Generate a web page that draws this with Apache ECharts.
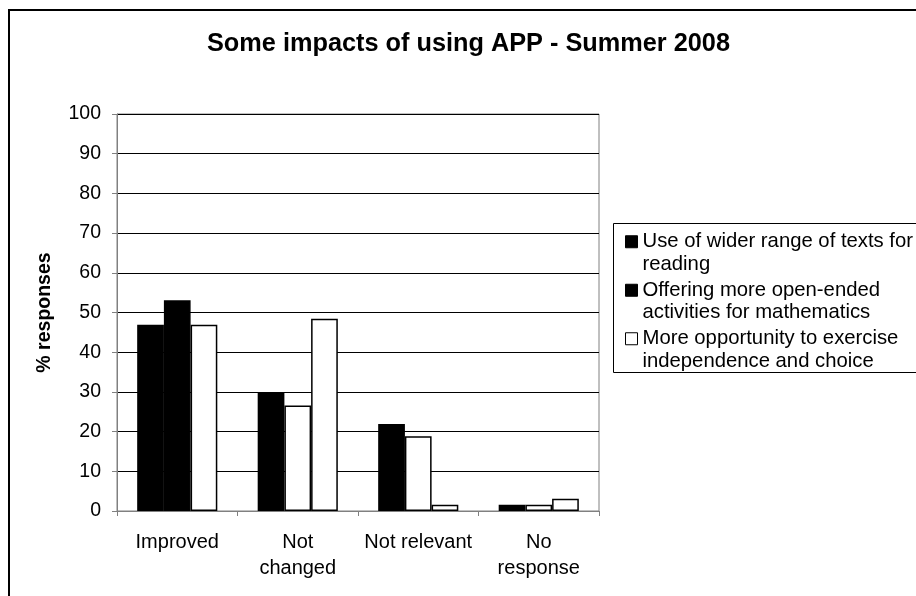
<!DOCTYPE html>
<html>
<head>
<meta charset="utf-8">
<style>
  html, body { margin: 0; padding: 0; background: #fff; }
  #chart { width: 916px; height: 596px; }
</style>
<script src="https://cdn.jsdelivr.net/npm/echarts@6/dist/echarts.min.js"></script>
</head>
<body>
<div id="chart"></div>
<script>
// Survey outcome categories (x axis)
const categories = ['Improved', 'Not\nchanged', 'Not relevant', 'No\nresponse'];

// Series names, as shown in the legend
const seriesNames = [
  'Use of wider range of texts for\nreading',
  'Offering more open-ended\nactivities for mathematics',
  'More opportunity to exercise\nindependence and choice'
];

// Percentage of responses per category
const readingValues      = [46.9, 29.7, 21.9, 1.6];
const mathematicsValues  = [53.1, 26.6, 18.8, 1.6];
const independenceValues = [46.9, 48.4, 1.6, 3.1];

// Y axis scale
const yMin = 0, yMax = 100, yStep = 10;

const FONT = '"Liberation Sans", Arial, sans-serif';

const chart = echarts.init(document.getElementById('chart'), null, { renderer: 'canvas' });

const barBorder = { borderColor: '#000', borderWidth: 1.5 };

// The mathematics series is solid black for "Improved" and hollow elsewhere
const mathsData = mathematicsValues.map((v, i) => (
  i === 0 ? v : { value: v, itemStyle: { color: '#fff' } }
));

chart.setOption({
  animation: false,
  backgroundColor: '#fff',
  title: {
    text: 'Some impacts of using APP - Summer 2008',
    left: 202,
    top: 27,
    textStyle: { fontFamily: FONT, fontSize: 25.3, fontWeight: 'bold', color: '#000' }
  },
  graphic: [
    { type: 'rect', shape: { x: 9, y: 10, width: 1000, height: 1000 },
      style: { fill: 'none', stroke: '#000', lineWidth: 2 }, silent: true },
    { type: 'rect', shape: { x: 613.5, y: 223.5, width: 400, height: 149 },
      style: { fill: 'none', stroke: '#000', lineWidth: 1 }, silent: true }
  ],
  legend: {
    orient: 'vertical',
    left: 625,
    top: 208,
    padding: 0,
    itemGap: -19,
    itemWidth: 12,
    itemHeight: 12,
    icon: 'rect',
    itemStyle: { borderColor: '#000', borderWidth: 1 },
    // a leading blank line keeps the first text line level with the swatch
    formatter: name => '\n' + name,
    textStyle: {
      fontFamily: FONT, fontSize: 20.3, color: '#000', lineHeight: 22.5
    },
    data: seriesNames
  },
  grid: {
    left: 117, right: 317, top: 114, bottom: 85,
    show: true, borderColor: '#808080', borderWidth: 1, backgroundColor: '#fff'
  },
  xAxis: {
    type: 'category',
    data: categories,
    axisLine: { lineStyle: { color: '#808080', width: 1 } },
    axisTick: { show: true, length: 5, inside: false, lineStyle: { color: '#808080' } },
    axisLabel: {
      fontFamily: FONT, fontSize: 20, color: '#000', lineHeight: 26, margin: 18,
      interval: 0
    }
  },
  yAxis: {
    type: 'value',
    min: yMin, max: yMax, interval: yStep,
    name: '% responses',
    nameLocation: 'middle',
    nameGap: 62,
    nameTextStyle: { fontFamily: FONT, fontSize: 19.5, fontWeight: 'bold', color: '#000' },
    axisLine: { show: true, lineStyle: { color: '#808080', width: 1 } },
    axisTick: { show: true, length: 5, lineStyle: { color: '#808080' } },
    axisLabel: { fontFamily: FONT, fontSize: 19.5, color: '#000', margin: 16 },
    splitLine: { show: true, lineStyle: { color: '#000', width: 1 } }
  },
  series: [
    { name: seriesNames[0], type: 'bar', data: readingValues,
      barGap: '0%', barCategoryGap: '33.5%',
      itemStyle: Object.assign({ color: '#000' }, barBorder) },
    { name: seriesNames[1], type: 'bar', data: mathsData,
      barGap: '0%', barCategoryGap: '33.5%',
      itemStyle: Object.assign({ color: '#000' }, barBorder) },
    { name: seriesNames[2], type: 'bar', data: independenceValues,
      barGap: '0%', barCategoryGap: '33.5%',
      itemStyle: Object.assign({ color: '#fff' }, barBorder) }
  ]
});
</script>
</body>
</html>
